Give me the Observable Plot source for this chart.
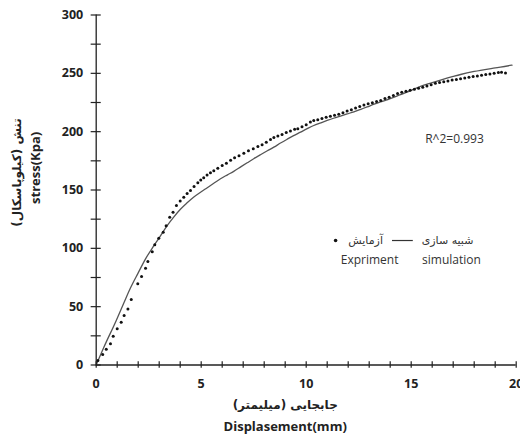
<!DOCTYPE html>
<html><head><meta charset="utf-8">
<script src="https://cdn.jsdelivr.net/npm/d3@7"></script>
<script src="https://cdn.jsdelivr.net/npm/@observablehq/plot@0.6"></script>
<style>html,body{margin:0;padding:0;background:#fff;overflow:hidden}</style>
</head><body><div id="chart"></div>
<script>
// Experiment (آزمایش) – displacement (mm) and stress (kPa)
const expX = [0.08,0.31,0.48,0.68,0.81,1.0,1.19,1.33,1.51,1.67,1.98,2.16,2.35,2.46,2.67,2.79,2.98,3.19,3.33,
  3.5,3.66,3.82,4.0,4.17,4.33,4.49,4.66,4.84,4.98,5.12,5.28,5.44,5.6,5.79,6.0,6.2,6.4,6.59,6.8,7.03,7.25,7.48,7.7,7.9,
  8.1,8.3,8.46,8.65,8.85,9.05,9.25,9.45,9.6,9.8,10.0,10.2,10.36,10.55,10.75,10.95,11.15,11.35,11.55,11.75,11.95,
  12.15,12.35,12.55,12.75,12.95,13.15,13.35,13.55,13.75,13.95,14.15,14.35,14.55,14.75,14.95,15.15,15.35,15.55,15.75,
  15.95,16.15,16.35,16.55,16.75,16.95,17.15,17.35,17.55,17.75,17.95,18.15,18.35,18.55,18.75,18.95,19.15,19.3,19.49];
const expY = [3.9,9,13.6,18.2,24.7,31,36.7,42.4,48.1,56.1,69.6,75.9,83,88.7,97,103,108.7,113.8,119.3,
  126.7,131,136.7,140.5,143.8,147,149.6,153,156.2,158.5,160.4,162.8,164.7,166.5,168.7,171,173,175.5,177.6,179.3,181.5,183.6,185.3,187.2,188.7,
  191,193.2,195,196.3,197.5,199.2,200.5,202,202.6,204.2,206,208.3,209.6,210.2,211.3,212.4,213.2,214,215,216.2,217.7,
  218.8,220.2,221.6,222.8,223.9,224.7,225.8,226.7,228.4,229.5,231,232.8,233.8,234.6,235.5,236.3,237.2,238,239.2,
  240.3,241.4,242.2,242.8,243.5,244.2,244.8,245.3,245.9,246.6,247.2,247.7,248.3,248.9,249.5,250.1,250.7,251,250.2];
// Simulation (شبیه سازی)
const simX = [0,0.36,0.95,1.3,1.63,2.0,2.35,2.7,3.0,3.38,3.7,4.01,4.33,4.65,5.0,5.29,5.6,5.92,6.25,6.55,6.9,7.19,7.5,7.82,
  8.15,8.46,8.8,9.1,9.4,9.73,10.05,10.36,10.7,11.0,11.3,11.63,11.95,12.27,12.6,12.9,13.2,13.54,13.8,14.0,14.49,15.0,15.44,
  16.0,16.4,17.0,17.35,18.0,18.3,19.0,19.25,19.8];
const simY = [0,15,38,52.5,66,79,91,101,109,119.5,127,133.5,139,144,148.5,152,155.8,159.6,163,166,170,173.3,176.8,180.2,
  183.6,186.7,190.5,193.6,196.6,199.6,202.6,205.3,207.6,209.6,211.5,213.4,215.2,217,219.2,221.2,223.3,225.5,227,228.3,231.8,235.4,238.8,
  242,244.2,247.3,249,251.6,252.6,254.6,255.3,257];

const xTickLabels = [0,5,10,15,20];
const xMinorTicks = [0,1,2,3,4,5,6,7,8,9,10,11,12,13,14,15,16,17,18,19,20];
const yTickLabels = [0,50,100,150,200,250,300];
const yMinorTicks = [0,25,50,75,100,125,150,175,200,225,250,275,300];

const rl = s => "\u200F" + s + "\u200F";
const annotation = [{x: 17.06, y: 194, text: "R^2=0.993"}];
const legendText = [
  {x: 12.83, y: 106.7, text: rl("آزمایش"), fa: true},
  {x: 16.73, y: 106.7, text: rl("شبیه سازی"), fa: true},
  {x: 13.02, y: 89.6, text: "Expriment", fa: false},
  {x: 16.92, y: 89.6, text: "simulation", fa: false}
];
const legendDot = [{x: 11.4, y: 106.7}];
const legendLine = [{x1: 14.11, x2: 15.1, y: 106.7}];
const xTitles = [
  {x: 9.0, y: -34.7, text: rl("جابجایی (میلیمتر)"), fa: true},
  {x: 9.0, y: -52.7, text: "Displasement(mm)", fa: false}
];
const yTitles = [
  {x: -3.75, y: 165, text: rl("تنش (کیلوپاسکال)"), fa: true},
  {x: -2.87, y: 169, text: "stress(Kpa)", fa: false}
];

const exp = expX.map((x, i) => ({x, y: expY[i]}));
const sim = simX.map((x, i) => ({x, y: simY[i]}));

const sansEn = "'Open Sans', 'DejaVu Sans', sans-serif";
const sansFa = "'DejaVu Sans', sans-serif";

const chart = Plot.plot({
  width: 520, height: 434,
  marginLeft: 95.7, marginRight: 4.3, marginTop: 14.5, marginBottom: 69.5,
  style: {fontFamily: sansEn, background: "#fff", overflow: "visible"},
  x: {domain: [0, 20]},
  y: {domain: [0, 300]},
  marks: [
    Plot.line(sim, {x: "x", y: "y", stroke: "#555", strokeWidth: 1.3, curve: "monotone-x"}),
    Plot.dot(exp, {x: "x", y: "y", r: 1.5, fill: "#111", stroke: "none"}),
    Plot.ruleY([0], {x1: 0, x2: 20, stroke: "#222", strokeWidth: 1.3}),
    Plot.ruleX([0], {y1: 0, y2: 300, stroke: "#222", strokeWidth: 1.3}),
    Plot.ruleX(xMinorTicks, {x: d => d, y1: -2.8, y2: 2.8, stroke: "#222", strokeWidth: 1.2}),
    Plot.ruleY(yMinorTicks, {y: d => d, x1: -0.24, x2: 0.24, stroke: "#222", strokeWidth: 1.2}),
    Plot.axisX(xTickLabels, {tickSize: 0, tickPadding: 14, fontSize: 12.5, fontWeight: "bold", fill: "#222", label: null}),
    Plot.axisY(yTickLabels, {tickSize: 0, tickPadding: 13, fontSize: 12.5, fontWeight: "bold", fill: "#222", label: null}),
    Plot.text(annotation, {x: "x", y: "y", text: "text", fontSize: 12, fill: "#333"}),
    Plot.dot(legendDot, {x: "x", y: "y", r: 1.8, fill: "#111"}),
    Plot.ruleY(legendLine, {x1: "x1", x2: "x2", y: "y", stroke: "#333", strokeWidth: 1.2}),
    Plot.text(legendText.filter(d => d.fa), {x: "x", y: "y", text: "text", fontSize: 11, fill: "#333", fontFamily: sansFa}),
    Plot.text(legendText.filter(d => !d.fa), {x: "x", y: "y", text: "text", fontSize: 12, fill: "#333"}),
    Plot.text(xTitles.filter(d => d.fa), {x: "x", y: "y", text: "text", fontSize: 12, fontWeight: "bold", fill: "#222", fontFamily: sansFa}),
    Plot.text(xTitles.filter(d => !d.fa), {x: "x", y: "y", text: "text", fontSize: 13, fontWeight: "bold", fill: "#222"}),
    Plot.text(yTitles.filter(d => d.fa), {x: "x", y: "y", text: "text", rotate: -90, fontSize: 12, fontWeight: "bold", fill: "#222", fontFamily: sansFa}),
    Plot.text(yTitles.filter(d => !d.fa), {x: "x", y: "y", text: "text", rotate: -90, fontSize: 13, fontWeight: "bold", fill: "#222"})
  ]
});
document.getElementById("chart").appendChild(chart);
</script>
</body></html>
